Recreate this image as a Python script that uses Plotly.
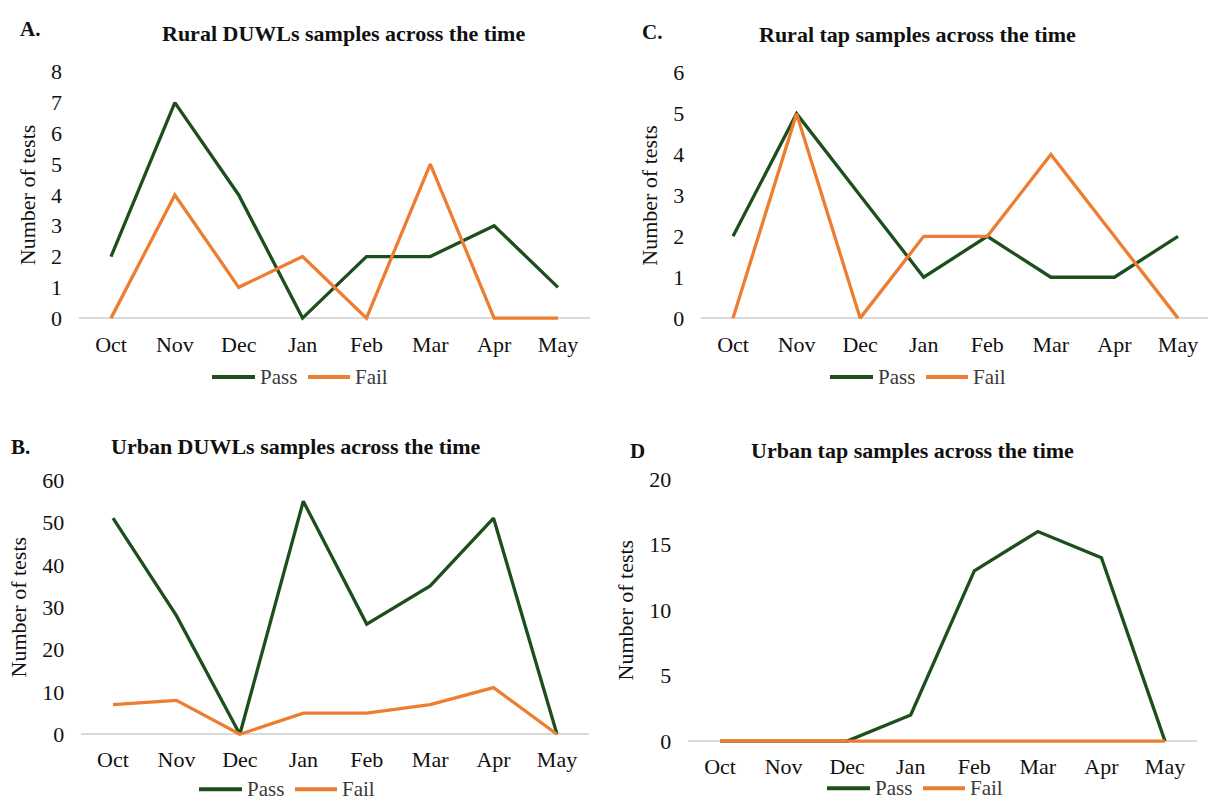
import plotly.graph_objects as go

months = ["Oct", "Nov", "Dec", "Jan", "Feb", "Mar", "Apr", "May"]

rural_duwl_pass = [2, 7, 4, 0, 2, 2, 3, 1]
rural_duwl_fail = [0, 4, 1, 2, 0, 5, 0, 0]

urban_duwl_pass = [51, 28, 0, 55, 26, 35, 51, 0]
urban_duwl_fail = [7, 8, 0, 5, 5, 7, 11, 0]

rural_tap_pass = [2, 5, 3, 1, 2, 1, 1, 2]
rural_tap_fail = [0, 5, 0, 2, 2, 4, 2, 0]

urban_tap_pass = [0, 0, 0, 2, 13, 16, 14, 0]
urban_tap_fail = [0, 0, 0, 0, 0, 0, 0, 0]

series_names = ["Pass", "Fail"]
titles = ["Rural DUWLs samples across the time", "Urban DUWLs samples across the time",
          "Rural tap samples across the time", "Urban tap samples across the time"]
letters = ["A.", "B.", "C.", "D"]

W, H = 1208, 809
GREEN = "#1C4F1C"
ORANGE = "#ED7D31"
COLORS = [GREEN, ORANGE]
FONT = "Liberation Serif, Times New Roman, serif"
TXT = "#111111"
LEGTXT = "#3A3A3A"


def xdom(p_first, p_last, n=8):
    s = (p_last - p_first) / (n - 1)
    left = p_first - 0.5 * s
    right = p_last + 0.5 * s
    rng = [-0.5, n - 0.5]
    if right > W:
        rng[1] = (W - p_first) / s
        right = W
    return [left / W, right / W], rng


def ydom(p0, ptop, vtop, lo, hi):
    s = (p0 - ptop) / vtop
    bottom = p0 - lo * s
    top = p0 - hi * s
    return [1 - bottom / H, 1 - top / H], [lo, hi]


panels = [
    dict(xp=(111, 558), yp=(317, 66), ymax=8, dtick=1, pas=rural_duwl_pass, fail=rural_duwl_fail,
         title_xy=(343, 27), letter_xy=(30, 22), legend_xy=(298, 377), xstand=6),
    dict(xp=(113, 557), yp=(741, 482), ymax=60, dtick=10, pas=urban_duwl_pass, fail=urban_duwl_fail,
         title_xy=(296, 448), letter_xy=(20, 448), legend_xy=(285, 797), xstand=5),
    dict(xp=(733, 1178), yp=(317, 67), ymax=6, dtick=1, pas=rural_tap_pass, fail=rural_tap_fail,
         title_xy=(917, 28), letter_xy=(652, 25), legend_xy=(916, 377), xstand=6),
    dict(xp=(720, 1165), yp=(748, 481), ymax=20, dtick=5, pas=urban_tap_pass, fail=urban_tap_fail,
         title_xy=(913, 452), letter_xy=(637, 452), legend_xy=(913, 796), xstand=5),
]

# legend entry layout relative to legend centre (px): line start, line end, text start
LEG_ENTRIES = [(-86, -43, -40), (10, 52, 55)]

fig = go.Figure()
annotations = []
shapes = []
layout = {}

for i, p in enumerate(panels):
    k = "" if i == 0 else str(i + 1)
    xa, ya = "x" + k, "y" + k
    pad = 0.02 * p["ymax"]
    xd, xr = xdom(*p["xp"])
    yd, yr = ydom(p["yp"][0], p["yp"][1], p["ymax"], -pad, p["ymax"] + pad)

    for name, vals, col in zip(series_names, [p["pas"], p["fail"]], COLORS):
        fig.add_trace(go.Scatter(x=months, y=vals, mode="lines", name=name,
                                 line=dict(color=col, width=3.3), xaxis=xa, yaxis=ya,
                                 showlegend=False))

    layout["xaxis" + k] = dict(domain=xd, range=xr, anchor=ya, showgrid=False,
                               showline=False, zeroline=False, ticks="",
                               tickfont=dict(family=FONT, size=22, color=TXT),
                               ticklabelstandoff=p["xstand"], fixedrange=True)
    layout["yaxis" + k] = dict(domain=yd, range=yr, anchor=xa, showgrid=False,
                               zeroline=True, zerolinecolor="#D9D9D9", zerolinewidth=1.5,
                               showline=False, ticks="", dtick=p["dtick"], tick0=0,
                               tickfont=dict(family=FONT, size=22, color=TXT),
                               ticklabelstandoff=16,
                               title=dict(text="Number of tests", standoff=9,
                                          font=dict(family=FONT, size=22, color=TXT)),
                               fixedrange=True)

    # legend (drawn as line samples + text)
    lx, ly = p["legend_xy"]
    for (x0, x1, xt), name, col in zip(LEG_ENTRIES, series_names, COLORS):
        shapes.append(dict(type="line", xref="paper", yref="paper",
                           x0=(lx + x0) / W, x1=(lx + x1) / W, y0=1 - ly / H, y1=1 - ly / H,
                           line=dict(color=col, width=4)))
        annotations.append(dict(text=name, x=(lx + xt) / W, y=1 - ly / H,
                                xref="paper", yref="paper", xanchor="left", yanchor="middle",
                                showarrow=False,
                                font=dict(family=FONT, size=21, color=LEGTXT)))

    tx, ty = p["title_xy"]
    annotations.append(dict(text="<b>" + titles[i] + "</b>", x=tx / W, y=1 - ty / H,
                            xref="paper", yref="paper", xanchor="center", yanchor="middle",
                            showarrow=False, font=dict(family=FONT, size=22, color=TXT)))
    cx, cy = p["letter_xy"]
    annotations.append(dict(text="<b>" + letters[i] + "</b>", x=cx / W, y=1 - cy / H,
                            xref="paper", yref="paper", xanchor="center", yanchor="middle",
                            showarrow=False, font=dict(family=FONT, size=21, color=TXT)))

fig.update_layout(width=W, height=H, margin=dict(l=0, r=0, t=0, b=0),
                  paper_bgcolor="white", plot_bgcolor="white", showlegend=False,
                  annotations=annotations, shapes=shapes, **layout)

fig.write_html("out.html")
